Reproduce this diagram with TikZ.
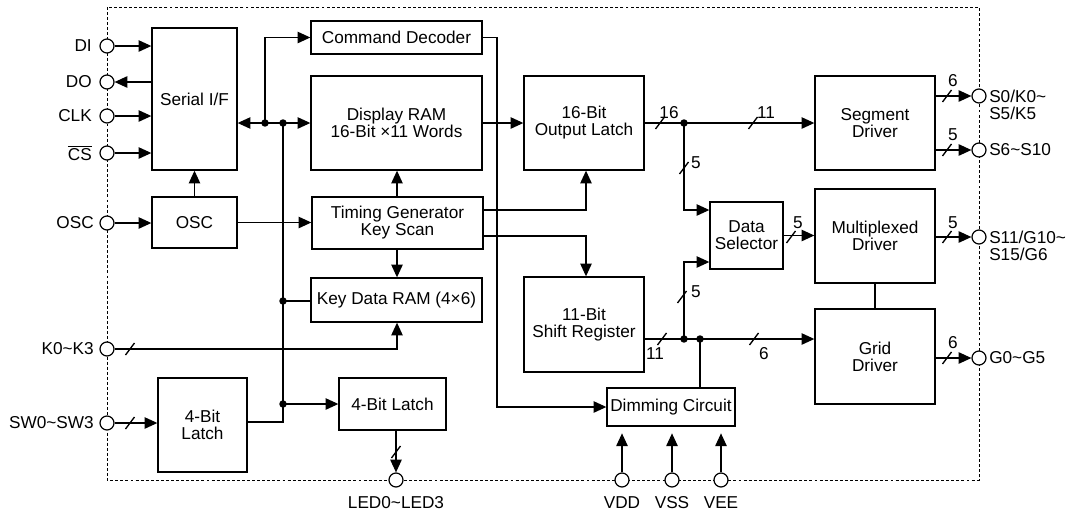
\documentclass[tikz,border=0pt]{standalone}
\usepackage{fontspec}
\setmainfont{Liberation Sans}
\usetikzlibrary{arrows.meta}
\begin{document}
\begin{tikzpicture}[x=0.75pt,y=-0.75pt,
  every node/.style={font=\fontsize{12.9}{12.75}\selectfont},
  blk/.style={draw,line width=1pt,inner sep=0pt,align=center},
  wire/.style={line width=1pt},
  arr/.style={-{Triangle[length=9.5pt,width=8.5pt]}},
  darr/.style={{Triangle[length=9.5pt,width=8.5pt]}-{Triangle[length=9.5pt,width=8.5pt]}},
  pinc/.style={circle,draw,fill=white,line width=0.9pt,minimum size=10.5pt,inner sep=0pt},
  num/.style={inner sep=0pt},
  plab/.style={inner sep=0pt,align=left}]
\newcommand\busmark[1]{\draw[wire] ([shift={(-4.5,6)}]#1) -- ++(9,-12);}
\newcommand\jdot[1]{\fill (#1) circle (2.8pt);}
\useasboundingbox (0,0) rectangle (1072,518);
% chip border
\draw[line width=0.7pt,dash pattern=on 2.2pt off 1.6pt] (107,7) rectangle (979,480);
% blocks
\node[blk,minimum width=63.75pt,minimum height=106.5pt] (serial) at (194.5,99) {Serial I/F};
\node[blk,minimum width=63.75pt,minimum height=38.25pt] (osc) at (194.5,222.5) {OSC};
\node[blk,minimum width=128.25pt,minimum height=24.75pt] (cmd) at (396.5,37.5) {Command Decoder};
\node[blk,minimum width=128.25pt,minimum height=70.5pt] (dram) at (396.5,123) {Display RAM\\16-Bit ×11 Words};
\node[blk,minimum width=128.25pt,minimum height=39pt] (tgen) at (397.5,223) {Timing Generator\\Key Scan};
\node[blk,minimum width=128.25pt,minimum height=33pt] (kram) at (396.5,300) {Key Data RAM (4×6)};
\node[blk,minimum width=80.25pt,minimum height=39pt] (latchS) at (392.5,404) {4-Bit Latch};
\node[blk,minimum width=66.75pt,minimum height=70.5pt] (latchB) at (202.5,425) {4-Bit\\Latch};
\node[blk,minimum width=90pt,minimum height=70.5pt] (olatch) at (584,123) {16-Bit\\Output Latch};
\node[blk,minimum width=90pt,minimum height=71.25pt] (shreg) at (584,324.5) {11-Bit\\Shift Register};
\node[blk,minimum width=54.75pt,minimum height=50.25pt] (dsel) at (746.5,235.5) {Data\\Selector};
\node[blk,minimum width=96pt,minimum height=28.5pt] (dim) at (671,407) {Dimming Circuit};
\node[blk,minimum width=90pt,minimum height=70.5pt] (seg) at (875,123) {Segment\\Driver};
\node[blk,minimum width=90pt,minimum height=70.5pt] (mux) at (875,236) {Multiplexed\\Driver};
\node[blk,minimum width=90pt,minimum height=71.25pt] (grid) at (875,356.5) {Grid\\Driver};
% junction coordinates
\coordinate (bus1) at (265,123);
\coordinate (bus2) at (283,123);
\coordinate (j3) at (283,301);
\coordinate (j5) at (283,404);
\coordinate (j4) at (283,422);
\coordinate (k1) at (397,349);
\coordinate (c1) at (497,37.5);
\coordinate (c2) at (497,407);
\coordinate (t1) at (586,210);
\coordinate (t2) at (586,236);
\coordinate (d1) at (684,123);
\coordinate (d1b) at (684,210);
\coordinate (d2) at (684,339);
\coordinate (d2b) at (684,262);
\coordinate (d3) at (700,339);
% wires
\draw[wire,darr] (serial.east|-bus1) -- (dram.west|-bus1);
\draw[wire,arr] (bus1) |- (cmd.west);
\draw[wire] (bus2) -- (j4) -- (latchB.east|-j4);
\draw[wire] (j3) -- (kram.west|-j3);
\draw[wire,arr] (j5) -- (latchS.west|-j5);
\draw[wire,arr] (osc.north) -- (serial.south);
\draw[wire,arr] (osc.east) -- (tgen.west|-osc.east);
\draw[wire,arr] (tgen.north-|k1) -- (dram.south-|k1);
\draw[wire,arr] (tgen.south-|k1) -- (kram.north-|k1);
\draw[wire,arr] (cmd.east) -- (c1) -- (c2) -- (dim.west);
\draw[wire,arr] (dram.east) -- (olatch.west);
\draw[wire,arr] (tgen.east|-t1) -- (t1) -- (t1|-olatch.south);
\draw[wire,arr] (tgen.east|-t2) -- (t2) -- (t2|-shreg.north);
\draw[wire,arr] (olatch.east) -- (seg.west);
\draw[wire,arr] (d1) -- (d1b) -- (dsel.west|-d1b);
\draw[wire,arr] (shreg.east|-d2) -- (grid.west|-d2);
\draw[wire,arr] (d2) -- (d2b) -- (dsel.west|-d2b);
\draw[wire] (d3) -- (d3|-dim.north);
\draw[wire,arr] (dsel.east) -- (mux.west|-dsel.east);
\draw[wire] (mux.south) -- (grid.north);
% pins
\node[pinc] (pDI) at (107,46) {};
\node[pinc] (pDO) at (107,82) {};
\node[pinc] (pCLK) at (107,116) {};
\node[pinc] (pCS) at (107,153) {};
\node[pinc] (pOSC) at (107,223) {};
\node[pinc] (pK) at (107,349) {};
\node[pinc] (pSW) at (107,423) {};
\node[pinc] (pLED) at (396,480) {};
\node[pinc] (pVDD) at (622,480) {};
\node[pinc] (pVSS) at (672,480) {};
\node[pinc] (pVEE) at (721,480) {};
\node[pinc] (pS0) at (979,96) {};
\node[pinc] (pS6) at (979,150) {};
\node[pinc] (pS11) at (979,237) {};
\node[pinc] (pG) at (979,358) {};
\draw[wire,arr] (pDI) -- (serial.west|-pDI);
\draw[wire,arr] (serial.west|-pDO) -- (pDO);
\draw[wire,arr] (pCLK) -- (serial.west|-pCLK);
\draw[wire,arr] (pCS) -- (serial.west|-pCS);
\draw[wire,arr] (pOSC) -- (osc.west|-pOSC);
\draw[wire,arr] (pK) -- (k1) -- (k1|-kram.south);
\draw[wire,arr] (pSW) -- (latchB.west|-pSW);
\draw[wire,arr] (latchS.south-|pLED) -- (pLED);
\draw[wire,arr] (pVDD) -- ([yshift=-5pt]pVDD|-dim.south);
\draw[wire,arr] (pVSS) -- ([yshift=-5pt]pVSS|-dim.south);
\draw[wire,arr] (pVEE) -- ([yshift=-5pt]pVEE|-dim.south);
\draw[wire,arr] (seg.east|-pS0) -- (pS0);
\draw[wire,arr] (seg.east|-pS6) -- (pS6);
\draw[wire,arr] (mux.east|-pS11) -- (pS11);
\draw[wire,arr] (grid.east|-pG) -- (pG);
% junction dots
\jdot{bus1}\jdot{bus2}\jdot{j3}\jdot{j5}\jdot{d1}\jdot{d2}\jdot{d3}
% bus marks
\busmark{130,349}\busmark{130,423}\busmark{396,452}
\busmark{660,123}\busmark{753,123}\busmark{684,168}\busmark{682,297}
\busmark{662,339}\busmark{754,339}\busmark{791,237}
\busmark{947,96}\busmark{947,150}\busmark{947,237}\busmark{947,358}
% bus widths
\node[num] (n16) at (669,113) {16};
\node[num] (n11a) at (766,113) {11};
\node[num] (n5a) at (696,163) {5};
\node[num] (n5b) at (696,292) {5};
\node[num] (n11b) at (655,354) {11};
\node[num] (n6a) at (764,354) {6};
\node[num] (n5c) at (798,223) {5};
\node[num] (n6b) at (953,81) {6};
\node[num] (n5d) at (953,135) {5};
\node[num] (n5e) at (953,223) {5};
\node[num] (n6c) at (953,343) {6};
% pin labels
\node[plab,anchor=east] (lDI) at (92,46) {DI};
\node[plab,anchor=east] (lDO) at (92,82) {DO};
\node[plab,anchor=east] (lCLK) at (92,116) {CLK};
\node[plab,anchor=east] (lCS) at (92,153) {$\overline{\hbox{CS}}$};
\node[plab,anchor=east] (lOSC) at (94,223) {OSC};
\node[plab,anchor=east] (lK) at (94,349) {K0\textasciitilde K3};
\node[plab,anchor=east] (lSW) at (94,423) {SW0\textasciitilde SW3};
\node[plab] (lLED) at (396,503) {LED0\textasciitilde LED3};
\node[plab] (lVDD) at (622,503) {VDD};
\node[plab] (lVSS) at (672,503) {VSS};
\node[plab] (lVEE) at (721,503) {VEE};
\node[plab,anchor=west] (lS0) at (989,104.5) {S0/K0\textasciitilde\\S5/K5};
\node[plab,anchor=west] (lS6) at (989,150) {S6\textasciitilde S10};
\node[plab,anchor=west] (lS11) at (989,245.5) {S11/G10\textasciitilde\\S15/G6};
\node[plab,anchor=west] (lG) at (989,358) {G0\textasciitilde G5};
\end{tikzpicture}
\end{document}
